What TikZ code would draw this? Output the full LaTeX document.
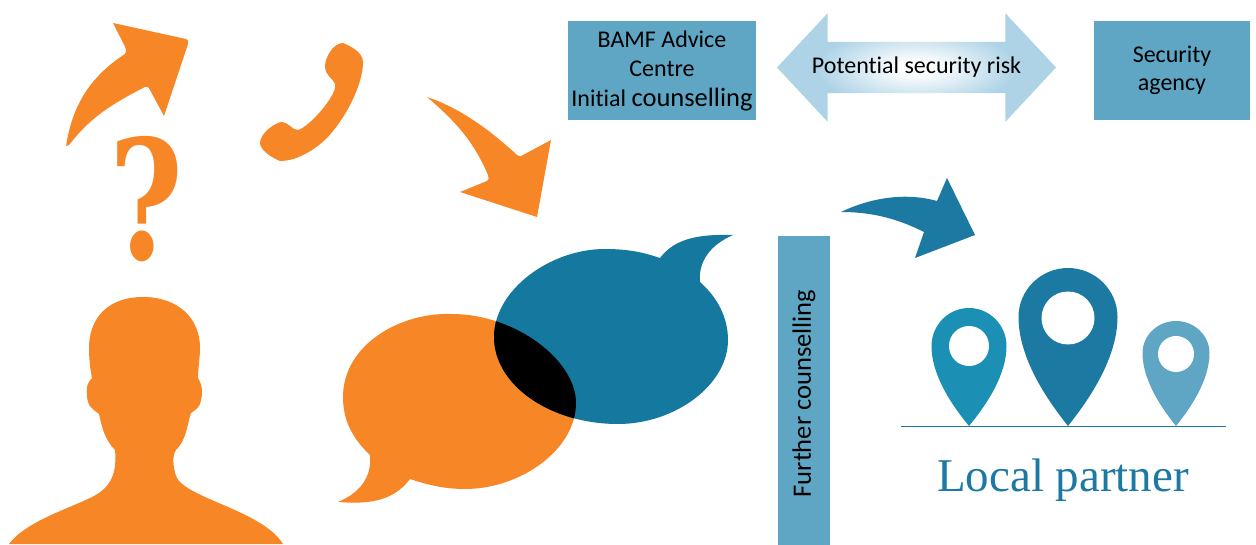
\documentclass[tikz,border=0pt]{standalone}
\usepackage{fontspec}
\setmainfont[RawFeature=-liga]{Carlito}
\newfontfamily\serifface{Liberation Serif}
\newfontfamily\queryface{DejaVu Serif}
\usetikzlibrary{shapes.arrows}
\definecolor{bamforange}{HTML}{F68626}
\definecolor{bubbleblue}{HTML}{14789F}
\definecolor{deepblue}{HTML}{1C79A2}
\definecolor{boxblue}{HTML}{5FA6C4}
\definecolor{pinblue}{HTML}{1B90B4}
\definecolor{glowblue}{HTML}{AED3E6}
\pgfdeclareradialshading{riskglow}{\pgfpoint{0bp}{0bp}}{color(0bp)=(white); color(3bp)=(white); color(18bp)=(glowblue); color(50bp)=(glowblue)}
\newcommand{\orangebubble}{(452,314) .. controls (400,312) and (343,345) .. (343,397) .. controls (343,420) and (352,438) .. (370,455) .. controls (372,475) and (362,492) .. (338,502) .. controls (365,504) and (392,503) .. (410,479) .. controls (428,485) and (445,489) .. (465,489) .. controls (520,489) and (576,450) .. (576,403) .. controls (576,360) and (515,314) .. (452,314) -- cycle}
\newcommand{\bluebubble}{(605,249) .. controls (630,249) and (645,253) .. (660,258) .. controls (675,238) and (700,234) .. (733,235) .. controls (710,245) and (698,262) .. (700,282) .. controls (718,298) and (728,318) .. (728,340) .. controls (728,385) and (675,424) .. (618,424) .. controls (550,424) and (494,385) .. (494,337) .. controls (494,290) and (550,249) .. (605,249) -- cycle}
\begin{document}
\begin{tikzpicture}[x=1pt, y=-1pt,
    bluebox/.style={fill=boxblue, text=black, inner sep=0pt, align=center, font=\fontsize{24}{29.5}\selectfont}]
  \useasboundingbox (0, 0) rectangle (1256, 545);
  % person and thoughts
  \fill[bamforange] (143,297) .. controls (178,297) and (200,318) .. (200,348) .. controls (200,358) and (198,368) .. (198,378) .. controls (202,384) and (203,392) .. (201,400) .. controls (200,408) and (195,410) .. (191,413) .. controls (188,420) and (187,440) .. (176,450) .. controls (172,456) and (173,466) .. (176,476) .. controls (184,498) and (262,510) .. (283,544) -- (9,544) .. controls (25,522) and (70,508) .. (90,498) .. controls (112,488) and (117,472) .. (115,450) .. controls (105,440) and (102,428) .. (99,414) .. controls (92,408) and (86,408) .. (87,388) .. controls (87,384) and (90,380) .. (92,378) .. controls (90,368) and (89,358) .. (89,348) .. controls (89,318) and (108,297) .. (143,297) -- cycle;
  \node[text=bamforange, font=\queryface\bfseries\fontsize{166}{166}\selectfont, inner sep=0pt, xscale=0.76] (query) at (146, 199) {?};
  \fill[bamforange] (66,146) .. controls (72,108) and (88,78) .. (125,54) .. controls (128,50) and (125,47) .. (113,23) -- (186,39) .. controls (188,40) and (189,41) .. (188,44) -- (164,116) -- (150,90) .. controls (148,86) and (146,86) .. (143,88) .. controls (110,105) and (90,118) .. (69,145) -- cycle;
  \fill[bamforange] (343,43) .. controls (350,46) and (363,52) .. (363,62) .. controls (363,85) and (345,120) .. (325,140) .. controls (310,153) and (295,161) .. (280,161) .. controls (272,158) and (260,150) .. (260,143) .. controls (260,133) and (276,122) .. (282,122) .. controls (288,122) and (292,130) .. (298,130) .. controls (308,128) and (338,95) .. (335,84) .. controls (333,78) and (325,76) .. (325,66) .. controls (325,58) and (333,43) .. (343,43) -- cycle;
  \fill[bamforange] (427,97) .. controls (460,108) and (490,130) .. (517,155) .. controls (519,157) and (521,157) .. (523,155) -- (551,140) -- (537,217) -- (460,192) -- (487,181) .. controls (489,180) and (489,178) .. (488,175) .. controls (475,145) and (460,125) .. (427,97) -- cycle;
  % the two bubbles
  \fill[bamforange] \orangebubble;
  \fill[bubbleblue] \bluebubble;
  \begin{scope}
    \clip \orangebubble;
    \fill[black] \bluebubble;
  \end{scope}
  % boxes
  \node[bluebox, minimum width=188pt, minimum height=99pt] (advice) at (662, 70.5) {BAMF Advice\\Centre\\Initial {\fontsize{26.5}{29.5}\selectfont counselling}};
  \node[bluebox, minimum width=156pt, minimum height=99pt, font=\fontsize{24}{28.5}\selectfont] (agency) at (1172, 70.5) {Security\\agency};
  \node[bluebox, rotate=90, minimum width=309pt, minimum height=52pt, font=\fontsize{26.5}{30}\selectfont] (further) at (804, 390.5) {Further counselling\kern6pt};
  \node[double arrow, shading=riskglow, double arrow head extend=28.5pt, double arrow tip angle=94, double arrow head indent=0pt,
    minimum height=279pt, inner xsep=2pt, inner ysep=16pt, text height=16pt, text depth=3pt,
    font=\fontsize{24}{29}\selectfont] (risk) at (916.5, 67.5) {Potential security risk};
  % local partner
  \fill[deepblue] (841,212) .. controls (870,198) and (905,192) .. (937,201) -- (947,178) -- (975,235) -- (915,258) -- (924,232) .. controls (900,220) and (875,212) .. (841,212) -- cycle;
  \foreach \px/\hw/\py/\my/\hy/\hr/\pcol in {969/37.5/308/346/346/20/pinblue, 1068/49.5/268/317/318/26.5/deepblue, 1176/33.5/321/353/354/18/boxblue}{
    \fill[\pcol] (\px,426) .. controls ({\px-0.35*\hw},{426-0.2*(426-\my)}) and ({\px-\hw},{\my+0.4*(426-\my)}) .. ({\px-\hw},\my)
      .. controls ({\px-\hw},{\my-0.55*(\my-\py)}) and ({\px-0.55*\hw},\py) .. (\px,\py)
      .. controls ({\px+0.55*\hw},\py) and ({\px+\hw},{\my-0.55*(\my-\py)}) .. ({\px+\hw},\my)
      .. controls ({\px+\hw},{\my+0.4*(426-\my)}) and ({\px+0.35*\hw},{426-0.2*(426-\my)}) .. (\px,426) -- cycle;
    \fill[white] (\px,\hy) circle (\hr pt);
  }
  \coordinate (groundl) at (901,426);
  \coordinate (groundr) at (1226,426);
  \draw[deepblue, line width=1pt] (groundl) -- (groundr);
  \node[text=deepblue, font=\serifface\fontsize{47}{50}\selectfont, inner sep=0pt, anchor=base] (partner) at (1063, 491) {Local partner};
\end{tikzpicture}
\end{document}
